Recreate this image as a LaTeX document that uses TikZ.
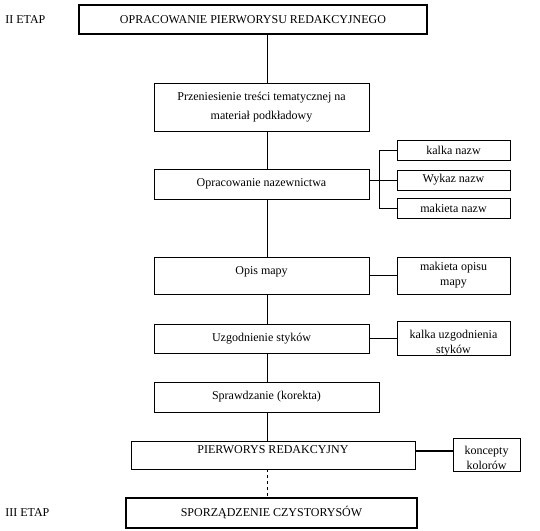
\documentclass[tikz,border=0pt]{standalone}
\usepackage{fontspec}
\setmainfont{Liberation Serif}
\usetikzlibrary{calc}

\begin{document}
\begin{tikzpicture}[x=1pt, y=-1pt, line width=0.7pt,
        box/.style={draw, line width=0.7pt, minimum width=215pt, minimum height=30pt, inner sep=2pt, align=center, font=\fontsize{12}{15}\selectfont},
        sidebox/.style={box, minimum width=113pt, minimum height=20pt},
        etapbox/.style={box, line width=1.8pt},
        etap/.style={anchor=west, inner sep=0pt, font=\fontsize{12}{15}\selectfont}]
        \useasboundingbox (0,0) rectangle (540,530);
        \coordinate (spine) at (267,0);

        % II etap
        \node[etap] (etapII) at (5,19.5) {II ETAP};
        \node[etapbox, minimum width=348pt, minimum height=29pt] (opr) at (253,19.5) {OPRACOWANIE PIERWORYSU REDAKCYJNEGO};
        \node[box, minimum height=48pt, font=\fontsize{12}{19}\selectfont] (przen) at (261.5,107) {Przeniesienie treści tematycznej na\\materiał podkładowy};
        \node[box] (nazw) at (261.5,184) {Opracowanie nazewnictwa};
        \node[sidebox] (kalka) at (453.5,150) {kalka nazw};
        \node[sidebox] (wykaz) at (453.5,180) {Wykaz nazw};
        \node[sidebox] (maknazw) at (453.5,208) {makieta nazw};
        \node[box, minimum height=37pt, text height=15pt, text depth=18pt] (opis) at (261.5,275.5) {Opis mapy};
        \node[sidebox, minimum height=37pt] (makopis) at (453.5,275.5) {makieta opisu\\mapy};
        \node[box, minimum height=29pt] (uzg) at (261.5,338.5) {Uzgodnienie styków};
        \node[sidebox, minimum height=29pt, text height=30pt, text depth=-5pt] (kuzg) at (453.5,338.5) {kalka uzgodnienia\\styków};
        \node[box, minimum width=225pt] (spraw) at (266.5,397) {Sprawdzanie (korekta)};
        \node[box, minimum width=284pt, minimum height=28pt, text height=10pt, text depth=14pt] (pierw) at (273,455) {PIERWORYS REDAKCYJNY};
        \node[box, minimum width=67pt, minimum height=28pt, text height=29pt, text depth=-5pt] (konc) at (486.5,455) {koncepty\\kolorów};

        % III etap
        \node[etap] (etapIII) at (5,513) {III ETAP};
        \node[etapbox, minimum width=291pt] (spor) at (271.5,513) {SPORZĄDZENIE CZYSTORYSÓW};

        \foreach \a/\b in {opr/przen, przen/nazw, nazw/opis, opis/uzg, uzg/spraw, spraw/pierw}
            \draw (\a.south -| spine) -- (\b.north -| spine);
        \draw[dashed] (pierw.south -| spine) -- (spor.north -| spine);

        \coordinate (brk) at ($(nazw.east)+(10,0)$);
        \draw (kalka.west) -| (brk) |- (maknazw.west);
        \draw (wykaz.west -| nazw.east) -- (wykaz.west);
        \draw (opis.east) -- (makopis.west);
        \draw (uzg.east) -- (kuzg.west);
        \draw[line width=2pt] ([yshift=4pt]pierw.east) -- ([yshift=4pt]konc.west);
    \end{tikzpicture}
\end{document}
